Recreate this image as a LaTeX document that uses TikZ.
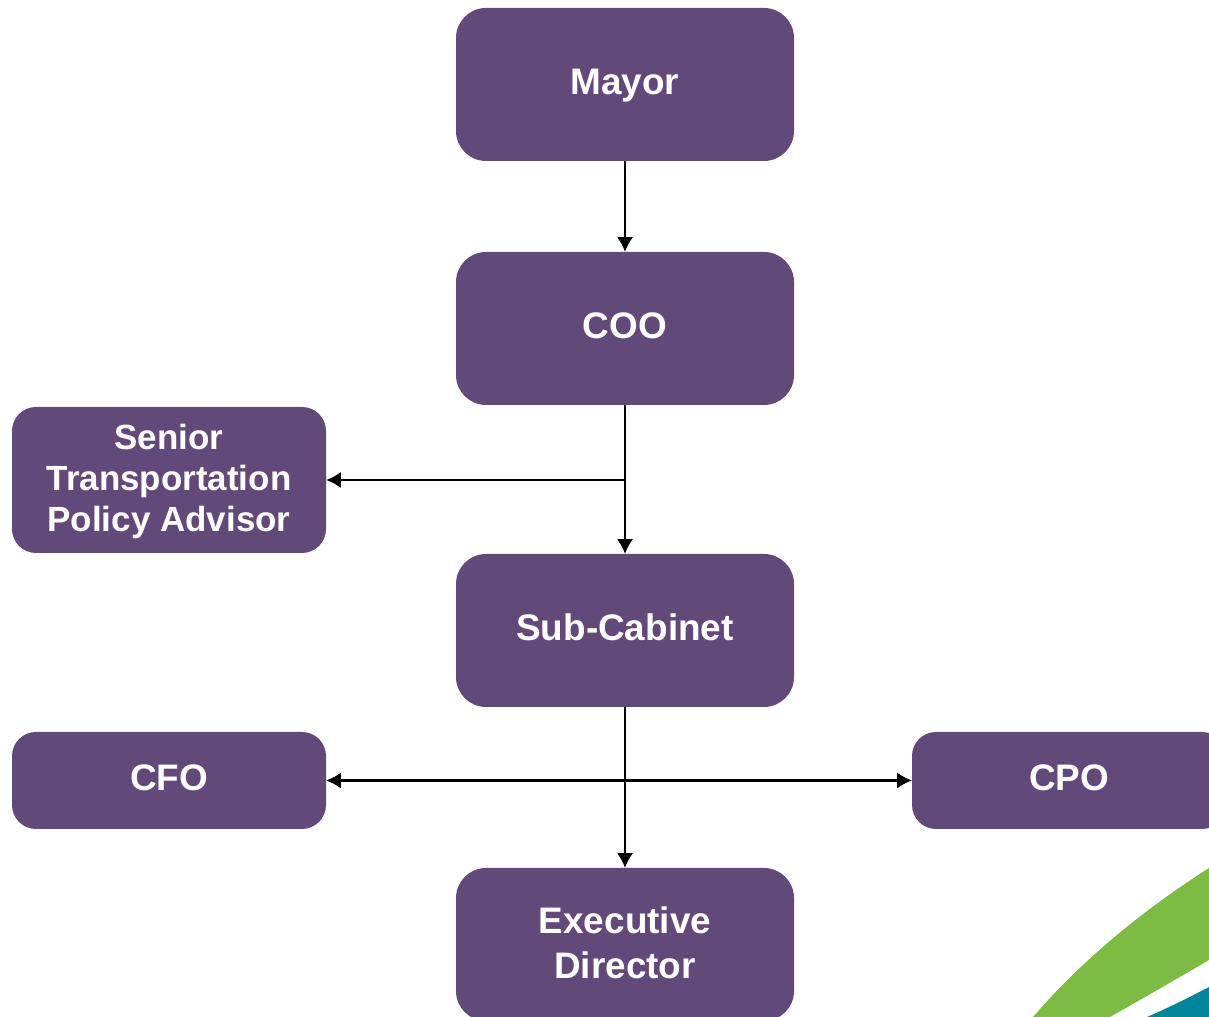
\documentclass[tikz,border=0pt]{standalone}
\usepackage{fontspec}
\usetikzlibrary{arrows.meta}
\setmainfont{Liberation Sans}
\definecolor{boxpurple}{HTML}{614A79}
\definecolor{swooshgreen}{HTML}{7DBC42}
\definecolor{swooshteal}{HTML}{00859B}
\tikzset{
bigbox/.style={fill=boxpurple,text=white,rounded corners=.3cm,inner sep=0pt,outer sep=0pt,align=center,minimum width=3.38cm,minimum height=1.53cm,text height=8.7pt,text depth=3pt,font=\fontsize{10.5}{12.8}\selectfont\bfseries},
sidebox/.style={bigbox,rounded corners=.24cm,minimum width=3.14cm},
link/.style={line width=.7pt,-{Latex[length=4.2pt,width=4.6pt]}}
}
\begin{document}
\begin{tikzpicture}
\useasboundingbox (0,0) rectangle (12.09,10.17);
\clip (0,0) rectangle (12.09,10.17);

\fill[swooshgreen] (10.33,0) .. controls (10.85,.6) and (11.45,1.08) .. (12.09,1.49) -- (12.09,.57) .. controls (11.75,.37) and (11.4,.17) .. (11.1,0) -- cycle;
\fill[swooshteal] (11.47,0) .. controls (11.7,.1) and (11.9,.2) .. (12.09,.3) -- (12.09,0) -- cycle;

\node[bigbox] (mayor) at (6.25,9.325) {Mayor};
\node[bigbox] (coo) at (6.25,6.885) {COO};
\node[bigbox] (sub) at (6.25,3.865) {Sub-Cabinet};
\node[bigbox,text height=20.4pt,text depth=1.14pt] (exec) at (6.25,.725) {Executive\\Director};

\node[sidebox,minimum height=1.46cm,text height=29.6pt,text depth=0pt,font=\fontsize{9.95}{11.8}\selectfont\bfseries] (senior) at (1.69,5.37) {Senior\\Transportation\\Policy Advisor};
\node[sidebox,minimum height=.97cm] (cfo) at (1.69,2.365) {CFO};
\node[sidebox,minimum height=.97cm] (cpo) at (10.69,2.365) {CPO};

\coordinate (j1) at (coo.south |- senior.east);
\coordinate (j2) at (sub.south |- cfo.east);

\foreach \from/\to in {mayor/coo,coo/sub,j1/senior,sub/exec,j2/cfo,j2/cpo}
\draw[link] (\from) -- (\to);
\end{tikzpicture}
\end{document}
